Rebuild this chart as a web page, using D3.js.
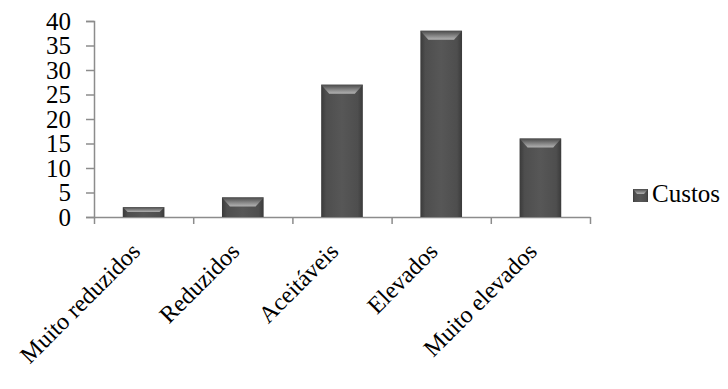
<!DOCTYPE html>
<html>
<head>
<meta charset="utf-8">
<script src="https://cdn.jsdelivr.net/npm/d3@7"></script>
<style>
	body	{ margin:0; background:#fff; }
</style>
</head>
<body>
<div id="chart"></div>
<script>
var	categories	= ["Muito reduzidos", "Reduzidos", "Aceitáveis", "Elevados", "Muito elevados"],
	custos		= [2, 4, 27, 38, 16],
	yTicks		= [0, 5, 10, 15, 20, 25, 30, 35, 40],
	seriesName	= "Custos";

var	W = 728, H = 389,
	serif	= "'Liberation Serif','Times New Roman',serif",
	margin	= {top: 21, left: 94, right: 138, bottom: 172},
	w	= W - margin.left - margin.right,
	h	= H - margin.top - margin.bottom;

var	svg	= d3.select("#chart").append("svg").attr("width", W).attr("height", H),
	defs	= svg.append("defs");

var body = defs.append("linearGradient").attr("id", "body").attr("x1", 0).attr("x2", 1).attr("y1", 0).attr("y2", 0);
body.append("stop").attr("offset", "0").attr("stop-color", "#3a3a3a");
body.append("stop").attr("offset", "0.12").attr("stop-color", "#4e4e4e");
body.append("stop").attr("offset", "0.5").attr("stop-color", "#575757");
body.append("stop").attr("offset", "0.88").attr("stop-color", "#4e4e4e");
body.append("stop").attr("offset", "1").attr("stop-color", "#3a3a3a");
var bevel = defs.append("linearGradient").attr("id", "bevel").attr("x1", 0).attr("x2", 0).attr("y1", 0).attr("y2", 1);
bevel.append("stop").attr("offset", "0").attr("stop-color", "#4a4a4a");
bevel.append("stop").attr("offset", "0.75").attr("stop-color", "#9a9a9a");
bevel.append("stop").attr("offset", "1").attr("stop-color", "#b0b0b0");

var	x	= d3.scaleBand().domain(categories).range([0, w]).paddingInner(0.58).paddingOuter(0.29),
	xb	= d3.scaleLinear().domain([0, categories.length]).range([0, w]),
	y	= d3.scaleLinear().domain([0, 40]).range([h, 0]);

var g = svg.append("g").attr("transform", "translate(" + margin.left + "," + margin.top + ")");

// y axis
var yAxis = g.append("g").call(d3.axisLeft(y).tickValues(yTicks).tickSize(8).tickPadding(15));
yAxis.select(".domain").attr("stroke", "#8c8c8c").attr("stroke-width", 1.5);
yAxis.selectAll(".tick line").attr("stroke", "#8c8c8c").attr("stroke-width", 1.5);
yAxis.selectAll(".tick text").style("font-family", serif).style("font-size", "25px").attr("fill", "#000").attr("dy", "0.33em");

// x axis, ticks on category boundaries
var xAxis = g.append("g").attr("transform", "translate(0," + h + ")")
	.call(d3.axisBottom(xb).tickValues(d3.range(categories.length + 1)).tickSize(7).tickSizeOuter(0).tickFormat(""));
xAxis.select(".domain").attr("stroke", "#8c8c8c").attr("stroke-width", 1.5);
xAxis.selectAll(".tick line").attr("stroke", "#8c8c8c").attr("stroke-width", 1.5);

// category labels
g.append("g").selectAll("text").data(categories).enter().append("text")
	.attr("transform", function(d) { return "translate(" + (x(d) + x.bandwidth() / 2 - 8) + "," + (h + 30) + ") rotate(-45)"; })
	.attr("text-anchor", "end").attr("dy", "0.35em")
	.style("font-family", serif).style("font-size", "24px")
	.text(function(d) { return d; });

// bars
var bars = g.append("g").selectAll("g.bar").data(categories).enter().append("g").attr("class", "bar");
bars.append("rect")
	.attr("x", function(d) { return x(d); })
	.attr("y", function(d, i) { return y(custos[i]); })
	.attr("width", x.bandwidth())
	.attr("height", function(d, i) { return h - y(custos[i]); })
	.attr("fill", "url(#body)");
bars.append("path")
	.attr("fill", "url(#bevel)")
	.attr("d", function(d, i) {
		var x0 = x(d), x1 = x0 + x.bandwidth(), t = y(custos[i]),
			bh = Math.min(9, (h - t) / 2), inset = Math.min(8, bh);
		return "M" + x0 + "," + t + "L" + x1 + "," + t + "L" + (x1 - inset) + "," + (t + bh) + "L" + (x0 + inset) + "," + (t + bh) + "Z";
	});

// legend
var legend = svg.append("g").attr("transform", "translate(633,189)");
legend.append("rect").attr("width", 15).attr("height", 13).attr("fill", "url(#body)");
legend.append("path").attr("d", "M0,0L15,0L11,5L4,5Z").attr("fill", "url(#bevel)");
legend.append("text").attr("x", 19).attr("y", 13)
	.style("font-family", serif).style("font-size", "25px").text(seriesName);
</script>
</body>
</html>
